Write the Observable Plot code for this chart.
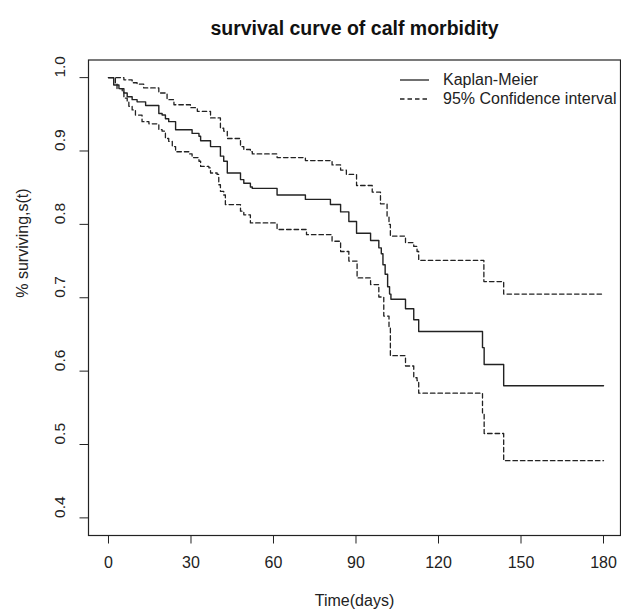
<!DOCTYPE html>
<html>
<head>
<meta charset="utf-8">
<script src="https://cdn.jsdelivr.net/npm/d3@7"></script>
<script src="https://cdn.jsdelivr.net/npm/@observablehq/plot@0.6"></script>
<style>
  html, body { margin: 0; padding: 0; background: #fff; }
  #wrap { position: relative; width: 621px; height: 615px; font-family: "Liberation Sans", Arial, sans-serif; }
  #legend { position: absolute; left: 398px; top: 71px; font-size: 16px; color: #222; line-height: 18.5px; }
  #legend .row { display: flex; align-items: center; height: 18.5px; }
  #legend svg { margin-right: 13px; }
</style>
</head>
<body>
<div id="wrap">
  <div id="legend">
    <div class="row"><svg width="32" height="4"><line x1="2" x2="31" y1="2" y2="2" stroke="#222" stroke-width="1.3"/></svg><span>Kaplan-Meier</span></div>
    <div class="row"><svg width="32" height="4"><line x1="2" x2="31" y1="2" y2="2" stroke="#222" stroke-width="1.3" stroke-dasharray="4.5,3"/></svg><span>95% Confidence interval</span></div>
  </div>
</div>
<script>
// Kaplan-Meier estimate (time of step, survival after step)
const kmTime = [0, 1.9, 3.8, 5.6, 6.8, 8.6, 10.4, 13.5, 18.3, 19.5, 20.7, 21.9, 24.4, 30.4, 32.9, 33.5, 37.1, 40.7, 41.9, 43.2, 48.0, 49.2, 51.6, 52.3, 61.3, 71.6, 80.7, 84.4, 87.4, 90.2, 95.3, 98.3, 99.2, 99.8, 100.6, 101.5, 102.2, 102.7, 108, 111, 112.8, 136, 136.6, 143.7, 180];
const kmSurv = [1.0, 0.990, 0.985, 0.979, 0.974, 0.970, 0.967, 0.962, 0.951, 0.949, 0.944, 0.940, 0.929, 0.924, 0.920, 0.914, 0.906, 0.893, 0.886, 0.870, 0.861, 0.856, 0.851, 0.849, 0.840, 0.834, 0.827, 0.817, 0.804, 0.788, 0.778, 0.768, 0.760, 0.745, 0.732, 0.715, 0.705, 0.698, 0.685, 0.670, 0.654, 0.632, 0.609, 0.580, 0.580];

// Upper 95% confidence limit
const upperTime = [0, 5.6, 8.6, 10.4, 12.8, 18.3, 21.3, 23.8, 29.8, 32.3, 37.1, 40.7, 41.9, 43.2, 48.0, 49.2, 51.6, 52.3, 61.3, 71.6, 81.3, 84.4, 86.5, 90.2, 95.9, 98.9, 101.3, 102.0, 102.5, 108, 111, 112.2, 112.8, 136.5, 143.7, 180];
const upperSurv = [1.0, 0.997, 0.993, 0.991, 0.986, 0.979, 0.970, 0.963, 0.959, 0.954, 0.945, 0.931, 0.927, 0.917, 0.906, 0.902, 0.899, 0.896, 0.891, 0.887, 0.881, 0.874, 0.868, 0.853, 0.844, 0.828, 0.811, 0.800, 0.784, 0.775, 0.770, 0.763, 0.751, 0.722, 0.705, 0.705];

// Lower 95% confidence limit
const lowerTime = [0, 2.5, 3.1, 5.0, 5.6, 6.8, 7.4, 8.6, 9.8, 12.2, 14.7, 18.3, 19.5, 20.7, 21.9, 23.2, 24.4, 29.2, 30.4, 32.9, 33.5, 36.5, 37.1, 39.5, 40.1, 40.7, 41.9, 42.5, 48.0, 49.2, 51.6, 61.3, 72, 81.3, 84.4, 87.4, 90.4, 95.3, 98.3, 100.1, 102.0, 102.5, 108, 111, 112.2, 112.8, 136.0, 136.6, 143.7, 180];
const lowerSurv = [1.0, 0.992, 0.985, 0.981, 0.972, 0.967, 0.961, 0.956, 0.949, 0.940, 0.937, 0.929, 0.927, 0.917, 0.913, 0.906, 0.899, 0.896, 0.891, 0.886, 0.879, 0.877, 0.870, 0.868, 0.854, 0.845, 0.840, 0.827, 0.818, 0.813, 0.802, 0.793, 0.786, 0.777, 0.763, 0.750, 0.727, 0.718, 0.701, 0.675, 0.659, 0.621, 0.607, 0.591, 0.587, 0.570, 0.543, 0.515, 0.478, 0.478];

const xTicks = [0, 30, 60, 90, 120, 150, 180];
const yTicks = [0.4, 0.5, 0.6, 0.7, 0.8, 0.9, 1.0];
const titleText = "survival curve of calf morbidity";
const xLabel = "Time(days)";
const yLabel = "% surviving,s(t)";

const toRows = (t, s) => t.map((d, i) => ({time: d, surv: s[i]}));
const km = toRows(kmTime, kmSurv);
const upper = toRows(upperTime, upperSurv);
const lower = toRows(lowerTime, lowerSurv);

const ink = "#222";
const chart = Plot.plot({
  width: 621,
  height: 615,
  marginLeft: 88,
  marginRight: 1,
  marginTop: 59.5,
  marginBottom: 80,
  style: {fontFamily: "'Liberation Sans', Arial, sans-serif", fontSize: "16px", color: ink, background: "#fff"},
  x: {domain: [-7.27, 186.18]},
  y: {domain: [0.376, 1.024]},
  marks: [
    Plot.frame({stroke: ink, strokeWidth: 1.2}),
    Plot.axisX(xTicks, {tickSize: 8.5, tickPadding: 13, label: null, fontSize: 16, stroke: ink}),
    Plot.axisY(yTicks, {tickSize: 8.5, tickFormat: () => "", label: null, stroke: ink}),
    Plot.text(yTicks, {y: d => d, text: d => d.toFixed(1), frameAnchor: "left", dx: -28, rotate: -90, fontSize: 15.5, fill: ink}),
    Plot.line(upper, {x: "time", y: "surv", curve: "step-after", stroke: ink, strokeWidth: 1.3, strokeDasharray: "4.5,3"}),
    Plot.line(lower, {x: "time", y: "surv", curve: "step-after", stroke: ink, strokeWidth: 1.3, strokeDasharray: "4.5,3"}),
    Plot.line(km, {x: "time", y: "surv", curve: "step-after", stroke: ink, strokeWidth: 1.4}),
    Plot.text([titleText], {frameAnchor: "top", dy: -39, fontWeight: "bold", fontSize: 19.5, fill: "#111"}),
    Plot.text([xLabel], {frameAnchor: "bottom", dy: 70, fontSize: 16, fill: ink}),
    Plot.text([yLabel], {frameAnchor: "left", dx: -66, rotate: -90, fontSize: 16, fill: ink})
  ]
});
document.getElementById("wrap").prepend(chart);
</script>
</body>
</html>
